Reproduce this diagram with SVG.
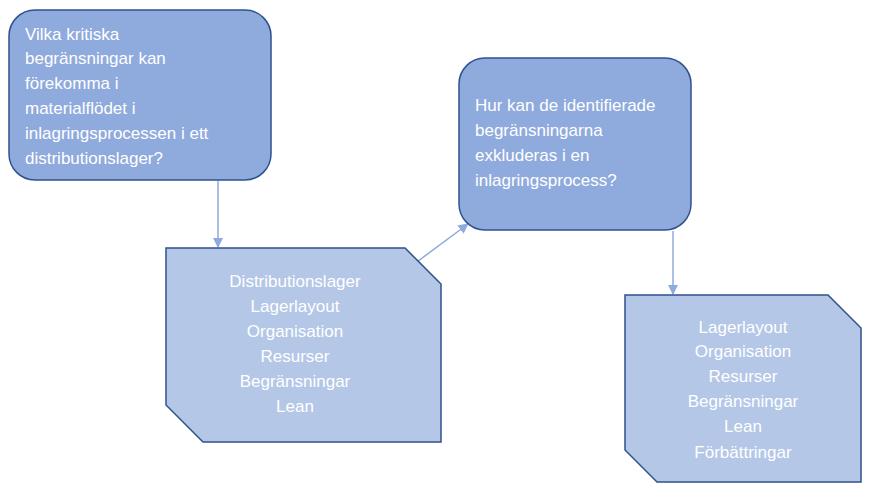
<svg xmlns="http://www.w3.org/2000/svg" width="870" height="496" viewBox="0 0 870 496">
<style>
.q{fill:#8faadc;stroke:#2f528f;stroke-width:1.5}
.s{fill:#b4c7e7;stroke:#2f528f;stroke-width:1.5}
.tq{font-family:"Liberation Sans",Arial,sans-serif;font-size:17px;fill:#fff}
.ts{font-family:"Liberation Sans",Arial,sans-serif;font-size:17px;fill:#fff;text-anchor:middle}
.c{stroke:#8faadc;stroke-width:1.5;fill:none;marker-end:url(#a)}
</style>
<defs><marker id="a" viewBox="0 0 10 10" refX="9" refY="5" markerWidth="7" markerHeight="7" orient="auto"><path d="M0,0L10,5L0,10z" fill="#8faadc"/></marker></defs>
<rect width="870" height="496" fill="#fff"/>
<g id="connectors">
<line class="c" x1="218" y1="181" x2="218" y2="247"/>
<line class="c" x1="406" y1="270" x2="468" y2="224"/>
<line class="c" x1="673" y1="231" x2="673" y2="294"/>
</g>
<g id="q1"><rect class="q" x="9" y="10" width="262" height="170" rx="26"/>
<text class="tq" x="25"><tspan x="25" y="40">Vilka kritiska</tspan><tspan x="25" y="64">begränsningar kan</tspan><tspan x="25" y="89">förekomma i</tspan><tspan x="25" y="114">materialflödet i</tspan><tspan x="25" y="139">inlagringsprocessen i ett</tspan><tspan x="25" y="164">distributionslager?</tspan></text></g>
<g id="q2"><rect class="q" x="459" y="58" width="232" height="172" rx="26"/>
<text class="tq"><tspan x="475" y="111">Hur kan de identifierade</tspan><tspan x="475" y="136">begränsningarna</tspan><tspan x="475" y="161">exkluderas i en</tspan><tspan x="475" y="186">inlagringsprocess?</tspan></text></g>
<g id="s1"><path class="s" d="M166,248H405L441,284V442H203L166,405Z"/>
<text class="ts"><tspan x="295" y="287">Distributionslager</tspan><tspan x="295" y="312">Lagerlayout</tspan><tspan x="295" y="337">Organisation</tspan><tspan x="295" y="362">Resurser</tspan><tspan x="295" y="387">Begränsningar</tspan><tspan x="295" y="412">Lean</tspan></text></g>
<g id="s2"><path class="s" d="M625,295H828L861,328V482H657L625,450Z"/>
<text class="ts"><tspan x="743" y="333">Lagerlayout</tspan><tspan x="743" y="357">Organisation</tspan><tspan x="743" y="382">Resurser</tspan><tspan x="743" y="407">Begränsningar</tspan><tspan x="743" y="432">Lean</tspan><tspan x="743" y="458">Förbättringar</tspan></text></g>
</svg>
